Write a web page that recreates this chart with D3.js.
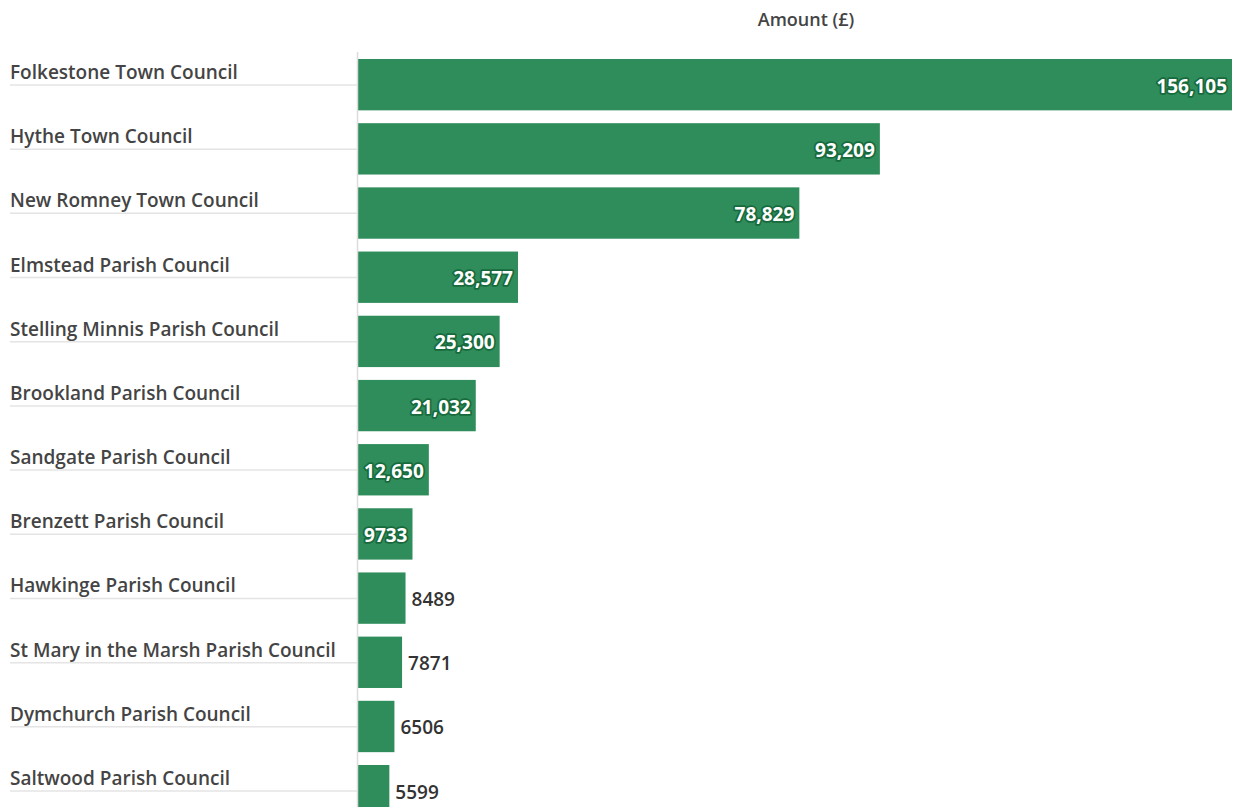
<!DOCTYPE html>
<html lang="en">
<head>
    <meta charset="UTF-8">
    <title>Amount (£) by council</title>
    <script src="https://d3js.org/d3.v7.min.js"></script>
    <style>
        body { margin: 0; background: #fff; }
        svg { display: block; font-family: "Open Sans", sans-serif; }
        .cat { fill: #444; font-size: 19px; font-weight: 600; }
        .rule { stroke: #e4e4e4; stroke-width: 1.5; }
        .bar { fill: #2f8c5b; }
        .val { font-size: 19px; font-weight: 700; dominant-baseline: central; }
        .val.in { fill: #fff; stroke: #176a3b; stroke-width: 3.5px; paint-order: stroke; stroke-linejoin: round; }
        .val.out { fill: #333; font-weight: 600; }
        .title { fill: #444; font-size: 18px; font-weight: 600; text-anchor: middle; }
    </style>
</head>
<body>
<div id="chart"></div>
<script>
    // councils and amounts
    var councils = ["Folkestone Town Council", "Hythe Town Council", "New Romney Town Council",
        "Elmstead Parish Council", "Stelling Minnis Parish Council", "Brookland Parish Council",
        "Sandgate Parish Council", "Brenzett Parish Council", "Hawkinge Parish Council",
        "St Mary in the Marsh Parish Council", "Dymchurch Parish Council", "Saltwood Parish Council"];
    var amounts = [156105, 93209, 78829, 28577, 25300, 21032, 12650, 9733, 8489, 7871, 6506, 5599];
    var valueLabels = ["156,105", "93,209", "78,829", "28,577", "25,300", "21,032", "12,650", "9733", "8489", "7871", "6506", "5599"];

    var width = 1235, height = 807;
    var margin = { top: 52, left: 358, right: 3 };
    var step = 64.18;

    var x = d3.scaleLinear()
        .domain([0, d3.max(amounts)])
        .range([margin.left, width - margin.right]);

    var y = d3.scaleBand()
        .domain(councils)
        .range([55.8, 55.8 + step * 11.9])
        .paddingInner(0.2)
        .paddingOuter(0.05);

    var svg = d3.select("#chart").append("svg")
        .attr("width", width)
        .attr("height", height);

    svg.append("text")
        .attr("class", "title")
        .attr("x", 806)
        .attr("y", 26)
        .text("Amount (£)");

    var rows = svg.selectAll(".row")
        .data(councils.map(function (c, i) { return { name: c, value: amounts[i], label: valueLabels[i] }; }))
        .enter().append("g")
        .attr("class", "row");

    // category labels with underline
    rows.append("text")
        .attr("class", "cat")
        .attr("x", 10)
        .attr("y", function (d) { return y(d.name) + 20; })
        .text(function (d) { return d.name; });

    rows.append("line")
        .attr("class", "rule")
        .attr("x1", 10)
        .attr("x2", margin.left)
        .attr("y1", function (d) { return y(d.name) + 26; })
        .attr("y2", function (d) { return y(d.name) + 26; });

    rows.append("rect")
        .attr("class", "bar")
        .attr("x", x(0))
        .attr("y", function (d) { return y(d.name); })
        .attr("width", function (d) { return x(d.value) - x(0); })
        .attr("height", y.bandwidth());

    // axis line
    svg.append("line")
        .attr("x1", margin.left - 0.5)
        .attr("x2", margin.left - 0.5)
        .attr("y1", margin.top)
        .attr("y2", height)
        .attr("stroke", "#dcdcdc")
        .attr("stroke-width", 1.5);

    // value labels: inside when they fit, otherwise just after the bar
    rows.append("text")
        .attr("class", "val")
        .attr("y", function (d) { return y(d.name) + y.bandwidth() / 2 + 1; })
        .text(function (d) { return d.label; })
        .each(function (d) {
            var t = d3.select(this);
            var w = this.getComputedTextLength();
            var barW = x(d.value) - x(0);
            if (w + 6 < barW) {
                t.classed("in", true)
                    .attr("text-anchor", "end")
                    .attr("x", x(d.value) - 5);
            } else {
                t.classed("out", true)
                    .attr("text-anchor", "start")
                    .attr("x", x(d.value) + 6);
            }
        });
</script>
</body>
</html>
